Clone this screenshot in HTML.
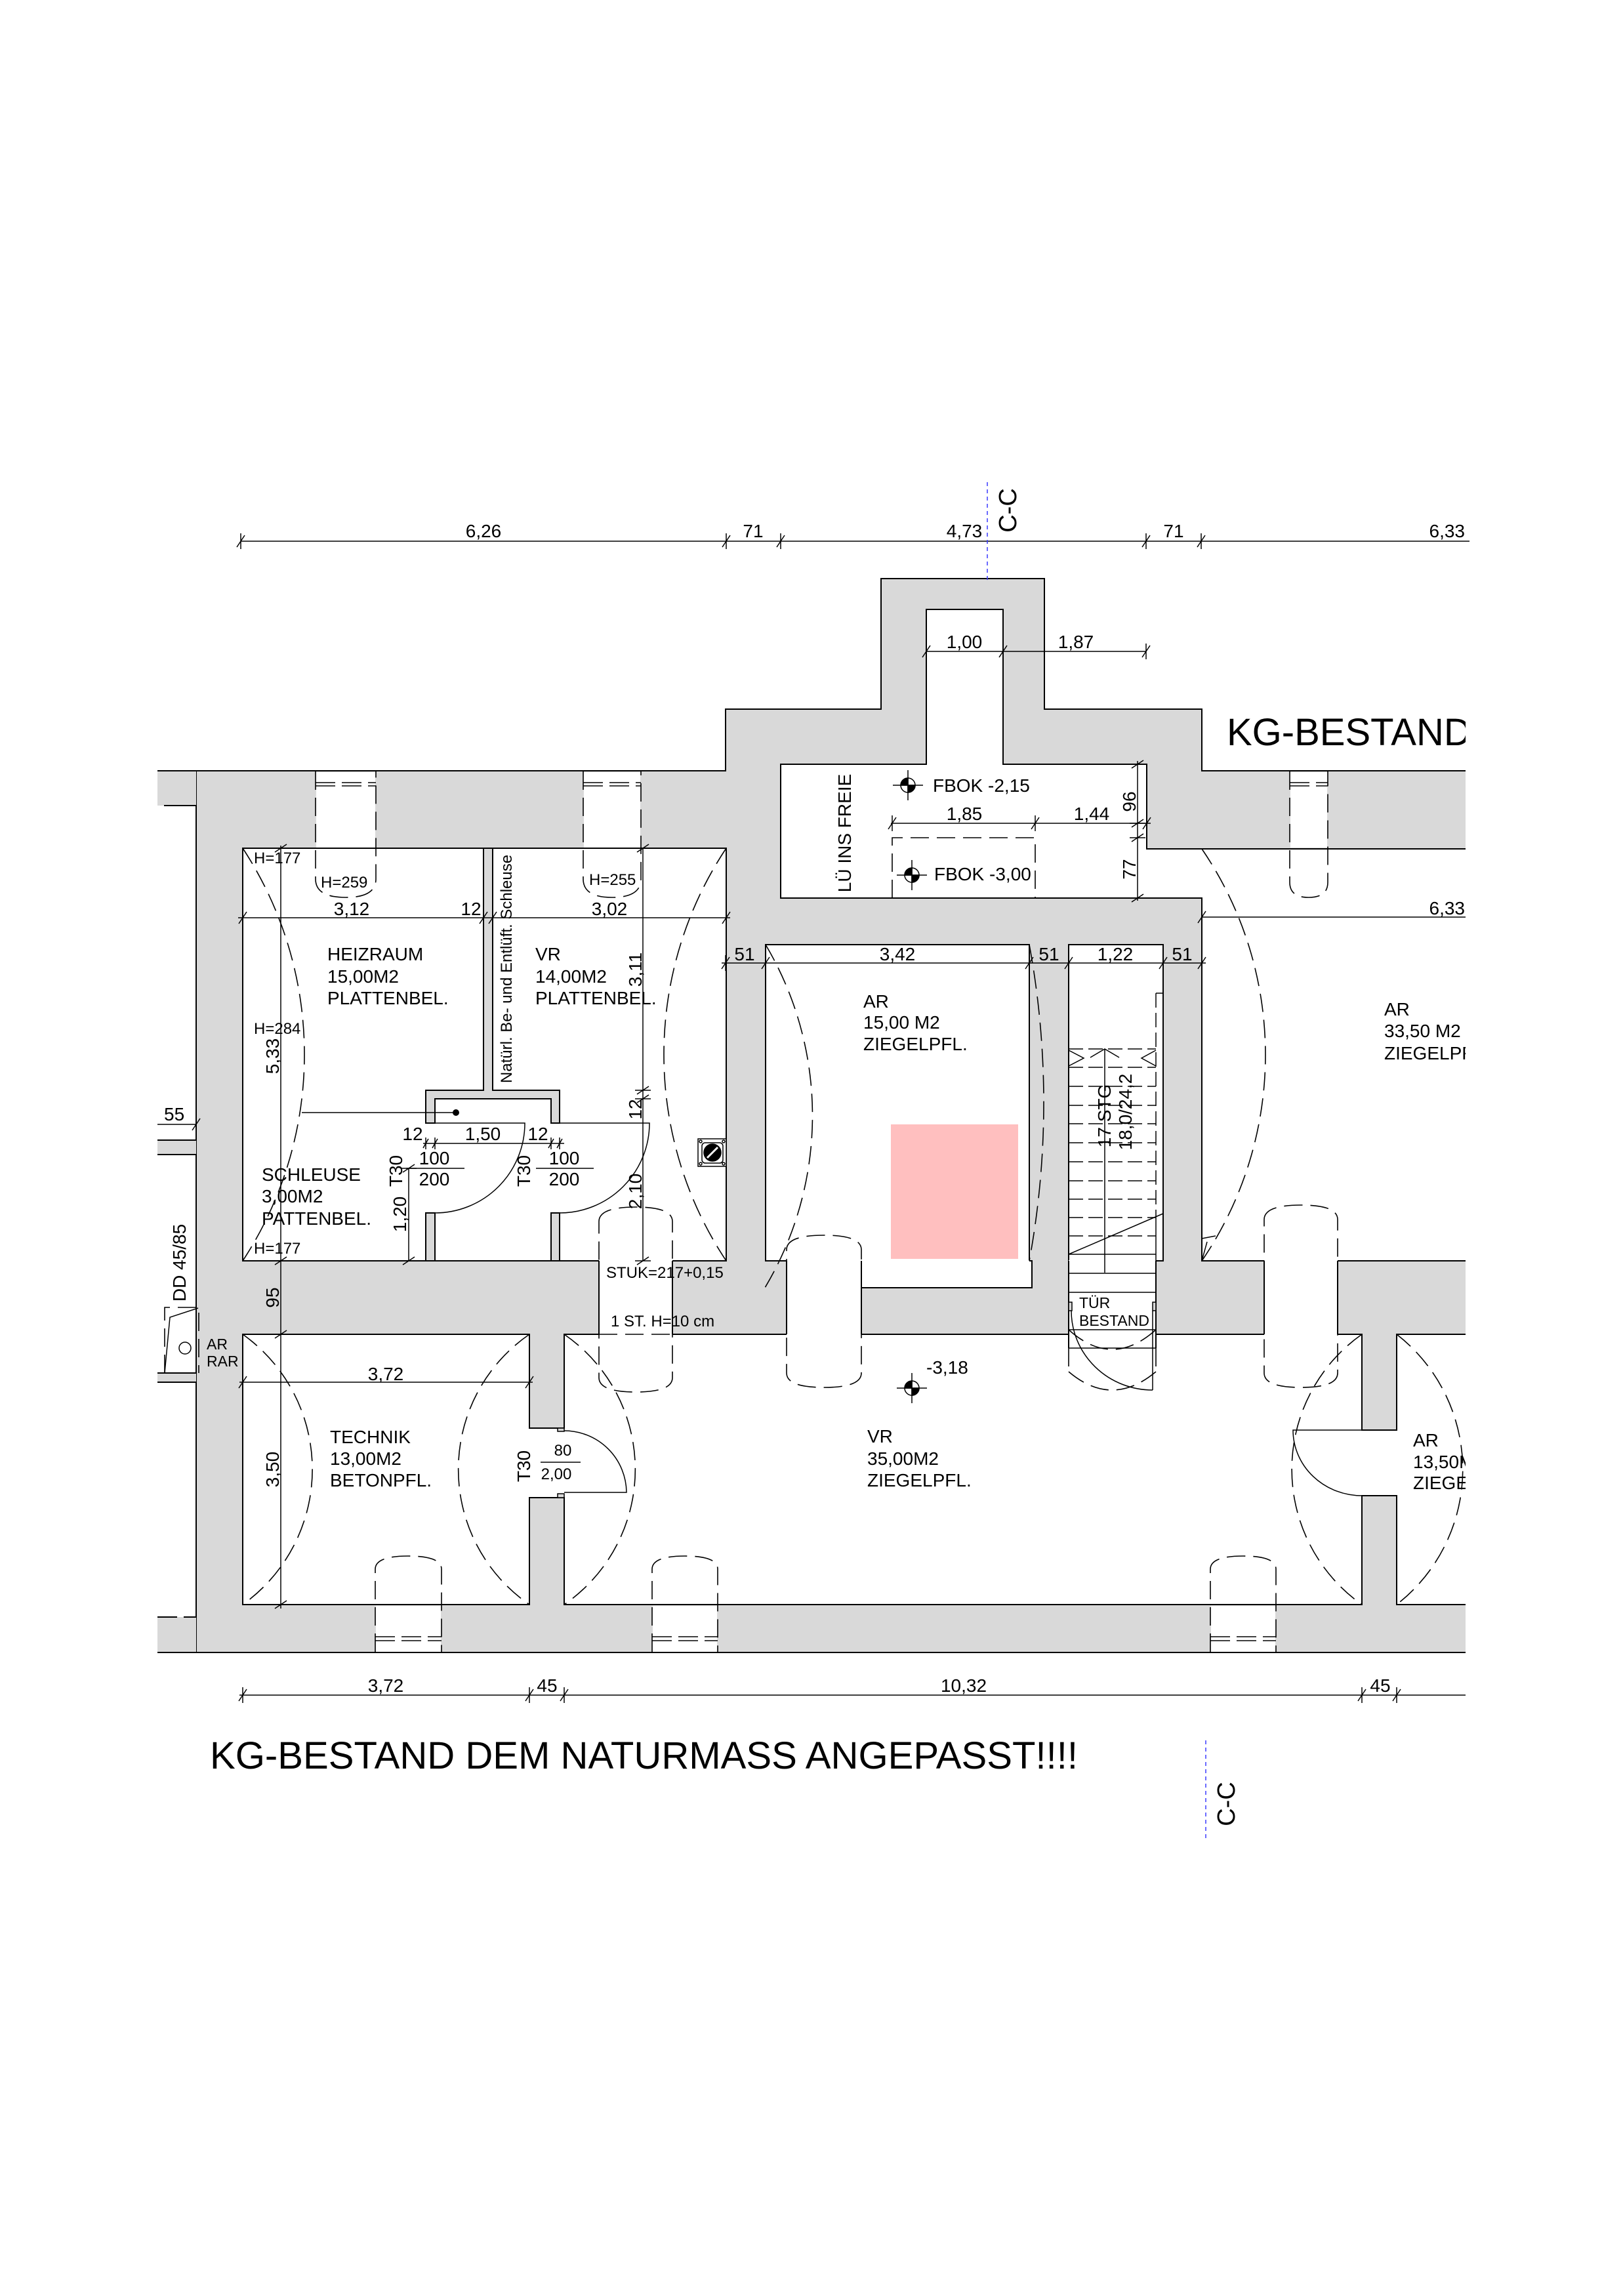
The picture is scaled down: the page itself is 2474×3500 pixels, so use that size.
<!DOCTYPE html>
<html><head><meta charset="utf-8"><style>
html,body{margin:0;padding:0;background:#fff;}
svg{display:block;}
</style></head><body>
<svg xmlns="http://www.w3.org/2000/svg" width="2474" height="3500" viewBox="0 0 2474 3500">
<rect width="2474" height="3500" fill="#fff"/>

<!-- building mass -->
<path d="M299,1175H1106V1081H1343V882H1592V1081H1832V1175H2300V2519H299Z" fill="#d9d9d9" stroke="#000" stroke-width="2"/>
<!-- left stubs -->
<g fill="#d9d9d9"><rect x="240" y="1175" width="59" height="53"/><rect x="240" y="1738" width="59" height="22"/><rect x="240" y="2093" width="59" height="14"/><rect x="240" y="2465" width="59" height="54"/></g>
<g stroke="#000" stroke-width="2" fill="none">
<path d="M240,1175H299M250,1228H299M240,1738H299M240,1760H299M240,2093H299M240,2107H299M240,2519H299"/>
<path d="M240,2465H299" stroke-dasharray="30,10"/>
</g>

<!-- rooms -->
<g fill="#fff" stroke="#000" stroke-width="2">
<rect x="370" y="1293" width="737" height="629"/>
<path d="M1190,1165H1412V929H1529V1165H1748V1294H2300V1922H1832V1369H1190Z"/>
<rect x="1167" y="1440" width="402" height="482"/>
<rect x="1629" y="1440" width="144" height="482"/>
<rect x="370" y="2034" width="437" height="412"/>
<rect x="860" y="2034" width="1216" height="412"/>
<rect x="2129" y="2034" width="171" height="412"/>
</g>

<!-- Schleuse walls -->
<g fill="#d9d9d9" stroke="#000" stroke-width="2">
<path d="M737,1293H751V1662H853V1712H840V1675H663V1712H649V1662H737Z"/>
<rect x="649" y="1849" width="14" height="73"/>
<rect x="840" y="1849" width="13" height="73"/>
</g>

<!-- openings middle wall -->
<g fill="#fff">
<rect x="913" y="1921" width="112" height="114"/>
<rect x="1199" y="1921" width="114" height="114"/>
<rect x="1313" y="1921" width="260" height="42"/>
<rect x="1629" y="1921" width="133" height="114"/>
<rect x="1927" y="1921" width="112" height="114"/>
<rect x="806" y="2178" width="55" height="104"/>
<rect x="2075" y="2181" width="55" height="98"/>
<!-- windows -->
<rect x="482" y="1177" width="90" height="115"/>
<rect x="890" y="1177" width="86" height="115"/>
<rect x="1967" y="1177" width="56" height="115"/>
<rect x="573" y="2448" width="99" height="70"/>
<rect x="995" y="2448" width="98" height="70"/>
<rect x="1846" y="2448" width="98" height="70"/>
</g>
<g stroke="#000" stroke-width="2" fill="none">
<path d="M913,1922V2034M1025,1922V2034M1199,1922V2034M1313,1922V2034M1569,1922H1573V1963H1313M1629,1922V2055M1762,1922V2055M1927,1922V2034M2039,1922V2034"/>
<path d="M807,2177H860M807,2283H860M2076,2180H2129M2076,2280H2129"/>
</g>
<g fill="#d9d9d9" stroke="#000" stroke-width="1.5">
<rect x="850" y="2177" width="10" height="5"/><rect x="850" y="2277" width="10" height="6"/>
<rect x="1629" y="1985" width="5" height="13"/><rect x="1757" y="1985" width="5" height="13"/>
</g>

<!-- pink -->
<rect x="1358" y="1714" width="194" height="205" fill="#ffbfbf"/>

<!-- dashed elements -->
<g stroke="#000" stroke-width="1.6" fill="none" stroke-dasharray="28,12">
<path d="M481,1176V1340Q481,1368 527,1368Q573,1368 573,1340V1176"/>
<path d="M889,1176V1340Q889,1368 933,1368Q977,1368 977,1340V1176"/>
<path d="M1966,1176V1345Q1966,1368 1995,1368Q2024,1368 2024,1345V1176"/>
<path d="M572,2518V2392Q572,2372 622,2372Q673,2372 673,2392V2518"/>
<path d="M994,2518V2392Q994,2372 1044,2372Q1094,2372 1094,2392V2518"/>
<path d="M1845,2518V2392Q1845,2372 1895,2372Q1945,2372 1945,2392V2518"/>
<path d="M913,1862Q913,1840 969,1840Q1025,1840 1025,1862V2100Q1025,2122 969,2122Q913,2122 913,2100Z"/>
<path d="M1199,1905Q1199,1883 1256,1883Q1313,1883 1313,1905V2093Q1313,2115 1256,2115Q1199,2115 1199,2093Z"/>
<path d="M1927,1859Q1927,1837 1983,1837Q2039,1837 2039,1859V2093Q2039,2115 1983,2115Q1927,2115 1927,2093Z"/>
<path d="M913,2034H1025"/>
<!-- vault arcs -->
<path d="M370,1293A573,573 0 0,1 370,1922"/>
<path d="M1107,1293A568,568 0 0,0 1107,1922"/>
<path d="M1167,1440A511,511 0 0,1 1166,1963"/>
<path d="M1569,1440A1331,1331 0 0,1 1569,1922"/>
<path d="M1832,1294A557,557 0 0,1 1832,1922"/>
<path d="M370,2034A253,253 0 0,1 370,2446"/>
<path d="M807,2034A250,250 0 0,0 807,2446"/>
<path d="M860,2034A250,250 0 0,1 860,2446"/>
<path d="M2076,2034A252,252 0 0,0 2076,2446"/>
<path d="M2129,2034A261,261 0 0,1 2129,2446"/>
<!-- LÜ dashed rect -->
<path d="M1360,1369V1277H1578V1369"/>
<!-- DD box -->
<path d="M251,2093V1993H303V2093"/>
<!-- stair bottom -->
<path d="M1629,2027Q1695,2087 1762,2027M1629,2055V2091M1762,2055V2091M1629,2091Q1695,2147 1762,2091"/>
</g>
<g stroke="#000" stroke-width="1.5" fill="none" stroke-dasharray="30,10">
<path d="M481,1193H573M481,1198H573M889,1193H977M889,1198H977M1966,1193H2024M1966,1198H2024"/>
<path d="M572,2495H673M572,2501H673M994,2495H1094M994,2501H1094M1845,2495H1945M1845,2501H1945"/>
</g>

<!-- stair -->
<g stroke="#000" stroke-width="1.5" fill="none">
<path d="M1629,1599H1762M1629,1627H1762M1629,1656H1762M1629,1685H1762M1629,1713H1762M1629,1742H1762M1629,1771H1762M1629,1800H1762M1629,1828H1762M1629,1856H1762M1629,1884H1762" stroke-dasharray="22,8"/>
<path d="M1629,1912H1762M1629,1941H1762M1629,1970H1762M1629,2027H1762M1629,2055H1762"/>
<path d="M1684,1599V1940M1629,1601L1652,1613L1629,1625M1662,1612L1684,1599L1706,1612M1762,1601L1740,1613L1762,1625"/>
<path d="M1762,1514H1773M1762,1850V1922M1629,1912L1773,1850"/>
<path d="M1762,1514V1850" stroke-dasharray="22,8"/>
<path d="M1633,1998A124,121 0 0,0 1757,2119M1757,1998V2119"/>
<!-- doors -->
<path d="M663,1712H800A137,137 0 0,1 663,1849"/>
<path d="M853,1712H990A137,137 0 0,1 853,1849"/>
<path d="M860,2181A95,95 0 0,1 955,2275H860"/>
<path d="M2076,2180H1971A105,100 0 0,0 2076,2280"/>
<path d="M1832,1888L1853,1884M1832,1922L1840,1893"/>
<!-- DD inner -->
<path d="M251,2093L259,2008L302,1994"/>
<circle cx="282" cy="2055" r="9"/>
<!-- pipe line -->
<path d="M460,1696H695"/>
<!-- T30 fraction lines -->
<path d="M619,1781H708M817,1781H905M824,2229H885"/>
</g>
<circle cx="695" cy="1696" r="5" fill="#000"/>

<!-- meter symbol -->
<g stroke="#000" stroke-width="1.5" fill="#fff">
<rect x="1064" y="1736" width="43" height="42"/>
<rect x="1070" y="1742" width="32" height="31" rx="5"/>
<circle cx="1086" cy="1757" r="13" fill="#000"/>
<path d="M1078,1765L1094,1749" stroke="#fff" stroke-width="3"/>
<circle cx="1068" cy="1740" r="2"/><circle cx="1103" cy="1740" r="2"/><circle cx="1068" cy="1774" r="2"/><circle cx="1103" cy="1774" r="2"/>
</g>

<!-- FBOK markers -->
<g stroke="#000" stroke-width="1.5">
<g transform="translate(1384,1197)"><circle r="11" fill="#fff"/><path d="M0,0L-11,0A11,11 0 0,1 0,-11ZM0,0L11,0A11,11 0 0,1 0,11Z" fill="#000"/><path d="M-23,0H23M0,-23V23" fill="none"/></g>
<g transform="translate(1390,1334)"><circle r="11" fill="#fff"/><path d="M0,0L-11,0A11,11 0 0,1 0,-11ZM0,0L11,0A11,11 0 0,1 0,11Z" fill="#000"/><path d="M-23,0H23M0,-23V23" fill="none"/></g>
<g transform="translate(1390,2116)"><circle r="11" fill="#fff"/><path d="M0,0L-11,0A11,11 0 0,1 0,-11ZM0,0L11,0A11,11 0 0,1 0,11Z" fill="#000"/><path d="M-23,0H23M0,-23V23" fill="none"/></g>
</g>

<!-- dimension lines -->
<g stroke="#000" stroke-width="1.5" fill="none">
<path d="M367,825H2240"/>
<path d="M367,813V837M361,834L373,816M1107,813V837M1101,834L1113,816M1190,813V837M1184,834L1196,816M1747,813V837M1741,834L1753,816M1831,813V837M1825,834L1837,816"/>
<path d="M1412,993H1747M1412,981V1005M1406,1002L1418,984M1529,981V1005M1523,1002L1535,984M1747,981V1005M1741,1002L1753,984"/>
<path d="M1358,1255H1754M1360,1243V1267M1354,1264L1366,1246M1578,1243V1267M1572,1264L1584,1246M1748,1243V1267M1742,1264L1754,1246"/>
<path d="M1734,1160V1373M1722,1165H1746M1725,1171L1743,1159M1722,1255H1746M1725,1261L1743,1249M1722,1277H1746M1725,1283L1743,1271M1722,1369H1746M1725,1375L1743,1363"/>
<path d="M363,1399H1113M370,1387V1411M364,1408L376,1390M737,1387V1411M731,1408L743,1390M751,1387V1411M745,1408L757,1390M1107,1387V1411M1101,1408L1113,1390"/>
<path d="M1100,1468H1838M1106,1456V1480M1100,1477L1112,1459M1167,1456V1480M1161,1477L1173,1459M1569,1456V1480M1563,1477L1575,1459M1629,1456V1480M1623,1477L1635,1459M1773,1456V1480M1767,1477L1779,1459M1832,1456V1480M1826,1477L1838,1459"/>
<path d="M1832,1398H2240M1832,1386V1410M1826,1407L1838,1389"/>
<path d="M428,1289V2452M416,1293H440M419,1299L437,1287M416,1922H440M419,1928L437,1916M416,2034H440M419,2040L437,2028M416,2446H440M419,2452L437,2440"/>
<path d="M980,1293V1922M968,1293H992M971,1299L989,1287M968,1662H992M971,1668L989,1656M968,1675H992M971,1681L989,1669M968,1922H992M971,1928L989,1916"/>
<path d="M645,1743H860M649,1734V1752M645,1750L653,1736M663,1734V1752M659,1750L667,1736M840,1734V1752M836,1750L844,1736M853,1734V1752M849,1750L857,1736"/>
<path d="M623,1781V1922M611,1781H635M614,1787L632,1775M611,1922H635M614,1928L632,1916"/>
<path d="M365,2107H812M370,2095V2119M364,2116L376,2098M807,2095V2119M801,2116L813,2098"/>
<path d="M240,1714H299M299,1702V1726M293,1723L305,1705"/>
<path d="M365,2584H2240M370,2572V2596M364,2593L376,2575M807,2572V2596M801,2593L813,2575M860,2572V2596M854,2593L866,2575M2076,2572V2596M2070,2593L2082,2575M2129,2572V2596M2123,2593L2135,2575"/>
</g>

<!-- section lines C-C -->
<g stroke="#3a3aff" stroke-width="1.5" stroke-dasharray="6,5">
<path d="M1505,735V885"/>
<path d="M1838,2653V2803"/>
</g>

<!-- texts -->
<g font-family="'Liberation Sans',Arial,Helvetica,sans-serif" fill="#000">
<g font-size="28" text-anchor="middle">
<text x="737" y="819">6,26</text>
<text x="1148" y="819">71</text>
<text x="1470" y="819">4,73</text>
<text x="1789" y="819">71</text>
<text x="1470" y="988">1,00</text>
<text x="1640" y="988">1,87</text>
<text x="1470" y="1250">1,85</text>
<text x="1664" y="1250">1,44</text>
<text x="536" y="1395">3,12</text>
<text x="718" y="1395">12</text>
<text x="929" y="1395">3,02</text>
<text x="1135" y="1464">51</text>
<text x="1368" y="1464">3,42</text>
<text x="1599" y="1464">51</text>
<text x="1700" y="1464">1,22</text>
<text x="1802" y="1464">51</text>
<text x="629" y="1738">12</text>
<text x="736" y="1738">1,50</text>
<text x="820" y="1738">12</text>
<text x="662" y="1775">100</text>
<text x="662" y="1807">200</text>
<text x="860" y="1775">100</text>
<text x="860" y="1807">200</text>
<text x="588" y="2104">3,72</text>
<text x="588" y="2579">3,72</text>
<text x="834" y="2579">45</text>
<text x="1469" y="2579">10,32</text>
<text x="2104" y="2579">45</text>
</g>
<g font-size="28" text-anchor="end">
<text x="2233" y="819">6,33</text>
<text x="2233" y="1394">6,33</text>
</g>
<g font-size="28">
<text x="250" y="1708">55</text>
<text x="1422" y="1207">FBOK -2,15</text>
<text x="1424" y="1342">FBOK -3,00</text>
<text x="1412" y="2094">-3,18</text>
<text x="499" y="1464">HEIZRAUM</text>
<text x="499" y="1498">15,00M2</text>
<text x="499" y="1531">PLATTENBEL.</text>
<text x="816" y="1464">VR</text>
<text x="816" y="1498">14,00M2</text>
<text x="816" y="1531">PLATTENBEL.</text>
<text x="399" y="1800">SCHLEUSE</text>
<text x="399" y="1833">3,00M2</text>
<text x="399" y="1867">PATTENBEL.</text>
<text x="1316" y="1536">AR</text>
<text x="1316" y="1568">15,00 M2</text>
<text x="1316" y="1601">ZIEGELPFL.</text>
<text x="2110" y="1548">AR</text>
<text x="2110" y="1581">33,50 M2</text>
<text x="2110" y="1615">ZIEGELPFL.</text>
<text x="503" y="2200">TECHNIK</text>
<text x="503" y="2233">13,00M2</text>
<text x="503" y="2266">BETONPFL.</text>
<text x="1322" y="2199">VR</text>
<text x="1322" y="2233">35,00M2</text>
<text x="1322" y="2266">ZIEGELPFL.</text>
<text x="2154" y="2205">AR</text>
<text x="2154" y="2238">13,50M2</text>
<text x="2154" y="2270">ZIEGELPFL.</text>
</g>
<g font-size="24">
<text x="387" y="1316">H=177</text>
<text x="489" y="1353">H=259</text>
<text x="898" y="1349">H=255</text>
<text x="387" y="1576">H=284</text>
<text x="387" y="1911">H=177</text>
<text x="924" y="1948">STUK=217+0,15</text>
<text x="931" y="2022">1 ST. H=10 cm</text>
<text x="858" y="2219" text-anchor="middle">80</text>
<text x="848" y="2255" text-anchor="middle">2,00</text>
</g>
<g font-size="23">
<text x="1645" y="1994">TÜR</text>
<text x="1645" y="2021">BESTAND</text>
<text x="315" y="2057">AR</text>
<text x="315" y="2083">RAR</text>
</g>

<!-- rotated -->
<g font-size="28" text-anchor="middle">
<text transform="translate(1297,1270) rotate(-90)">LÜ INS FREIE</text>
<text transform="translate(1731,1222) rotate(-90)">96</text>
<text transform="translate(1731,1325) rotate(-90)">77</text>
<text transform="translate(425,1610) rotate(-90)">5,33</text>
<text transform="translate(425,1978) rotate(-90)">95</text>
<text transform="translate(425,2240) rotate(-90)">3,50</text>
<text transform="translate(978,1478) rotate(-90)">3,11</text>
<text transform="translate(978,1691) rotate(-90)">12</text>
<text transform="translate(978,1816) rotate(-90)">2,10</text>
<text transform="translate(613,1785) rotate(-90)">T30</text>
<text transform="translate(808,1785) rotate(-90)">T30</text>
<text transform="translate(619,1851) rotate(-90)">1,20</text>
<text transform="translate(283,1925) rotate(-90)">DD 45/85</text>
<text transform="translate(808,2235) rotate(-90)">T30</text>
<text transform="translate(1693,1701) rotate(-90)">17 STG</text>
<text transform="translate(1725,1695) rotate(-90)">18,0/24,2</text>
</g>
<text font-size="24" text-anchor="middle" transform="translate(780,1477) rotate(-90)">Natürl. Be- und Entlüft. Schleuse</text>
<g font-size="38" text-anchor="middle">
<text transform="translate(1549,778) rotate(-90)">C-C</text>
<text transform="translate(1882,2750) rotate(-90)">C-C</text>
</g>
<text x="1870" y="1136" font-size="58">KG-BESTAND</text>
<text x="320" y="2696" font-size="58" textLength="1323" lengthAdjust="spacingAndGlyphs">KG-BESTAND DEM NATURMASS ANGEPASST!!!!</text>
</g>

<!-- right clip -->
<rect x="2234" y="860" width="240" height="1780" fill="#fff"/>
</svg>
</body></html>
